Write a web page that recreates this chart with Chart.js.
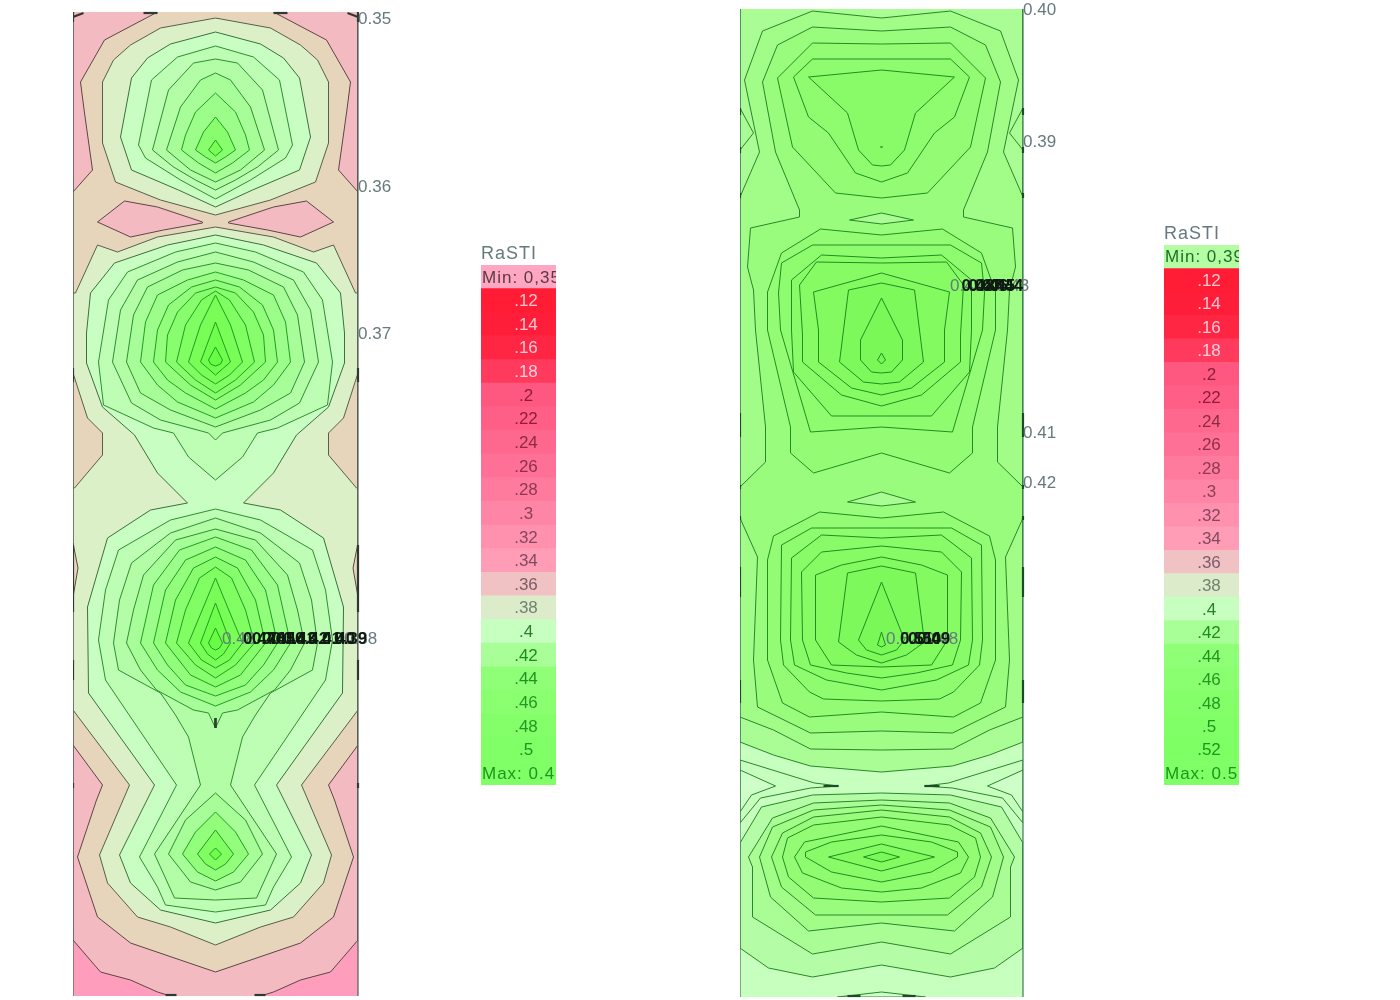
<!DOCTYPE html>
<html>
<head>
<meta charset="utf-8">
<title>RaSTI</title>
<script src="https://cdn.jsdelivr.net/npm/chart.js@4"></script>
<style>
    body { margin: 0; background: #fff; }
    canvas { position: absolute; top: 0; }
</style>
</head>
<body>
<canvas id="leftPlan" width="330" height="1000" style="left:73px"></canvas>
<canvas id="rightPlan" width="328" height="1000" style="left:740px"></canvas>
<canvas id="leftScale" width="75" height="785" style="left:481px"></canvas>
<canvas id="rightScale" width="75" height="785" style="left:1164px"></canvas>
<script>
// Contours are half outlines: [offset from the room axis, distance along the room]

// Left room
const leftPink = [[0,0],[142.5,0],[142.5,940],[115,972],[85,980],[58,992],[45,996],[45,1000],[0,1000]];
const leftTan = [[0,0],[58,0],[58,12],[111,40],[135,82],[131,113],[123,170],[142.5,192],[142.5,745],[113,785],[119,800],[138,857],[128,887],[118,917],[85,943],[0,972]];
const leftDiamond = [[13,222],[58,207],[91,201],[118,222],[85,237],[52,230],[13,223]];
const leftSliver = [[142.5,543],[137.5,568],[142.5,597]];
const leftT0 = [[0,18],[55,28],[85,45],[102,60],[113,82],[113,143],[100,182],[55,200],[0,215]];
const leftT1 = [[0,32],[45,44],[68,58],[84,78],[95,137],[84,170],[37,190],[0,207]];
const leftT2 = [[0,46],[38,57],[64,80],[77,145],[70,158],[35,180],[0,199]];
const leftT3 = [[0,59],[22,63],[47,90],[63,150],[42,167],[20,180],[0,190]];
const leftT4 = [[0,73],[15,80],[35,107],[49,150],[25,170],[0,182]];
const leftT5 = [[0,93],[20,112],[30,135],[34,150],[17,163],[0,173]];
const leftT6 = [[0,117],[12,132],[20,150],[10,157],[0,163]];
const leftT7 = [[0,140],[7,150],[0,156]];
const leftPale = [[0,227],[58,237],[98,252],[118,245],[140,293],[142.5,293],[142.5,373],[128,418],[113,433],[113,455],[141,488],[142.5,488],[142.5,710],[86,785],[116,855],[108,883],[78,917],[45,927],[0,945]];
const leftL0 = [[0,235],[48,245],[101,263],[125,293],[129,333],[129,363],[113,407],[81,435],[58,473],[28,503],[65,510],[108,538],[128,607],[127,693],[61,785],[96,855],[85,883],[55,910],[0,923]];
const leftM1 = [[0,243],[40,252],[88,272],[107,300],[117,362],[112,405],[62,428],[42,433],[27,457],[0,480]];
const leftM2 = [[0,252],[38,262],[78,280],[95,310],[103,362],[84,403],[55,420],[7,433],[0,440]];
const leftM3 = [[0,263],[33,270],[68,287],[82,315],[89,362],[75,393],[45,410],[0,427]];
const leftM4 = [[0,272],[28,280],[58,295],[70,322],[75,362],[58,385],[38,402],[0,418]];
const leftM5 = [[0,280],[24,287],[47,305],[58,330],[62,362],[48,380],[30,393],[0,409]];
const leftM6 = [[0,287],[20,293],[38,312],[48,335],[50,362],[25,385],[0,400]];
const leftM7 = [[0,291],[14,300],[30,325],[39,362],[20,380],[0,393]];
const leftM8 = [[0,295],[15,325],[27,362],[14,375],[0,384]];
const leftM9 = [[0,322],[15,362],[8,368],[0,375]];
const leftM10 = [[0,347],[7,360],[5,364],[0,366]];
const leftA = [[0,509],[45,520],[97,550],[110,590],[117,640],[110,680],[39,785],[76,857],[58,887],[50,905],[0,912]];
const leftB = [[0,518],[45,533],[84,563],[96,600],[102,643],[97,670],[55,693],[40,715],[27,737],[15,785],[61,854],[41,898],[0,900]];
const leftC = [[0,529],[40,540],[72,575],[82,610],[89,643],[75,670],[59,690],[22,710],[7,713],[0,728]];
const leftD = [[0,537],[36,550],[62,585],[75,643],[58,670],[35,692],[0,706]];
const leftE = [[0,547],[30,560],[50,590],[62,643],[48,665],[30,685],[0,696]];
const leftF = [[0,557],[22,568],[40,600],[50,643],[25,675],[0,687]];
const leftG = [[0,567],[16,578],[30,610],[39,643],[20,665],[0,678]];
const leftH = [[0,578],[27,643],[14,660],[0,668]];
const leftI = [[0,603],[15,643],[8,654],[0,660]];
const leftJ = [[0,628],[7,643],[4,648],[0,650]];
const leftB1 = [[0,793],[30,820],[47,854],[25,882],[0,890]];
const leftB2 = [[0,812],[20,832],[33,854],[18,872],[0,881]];
const leftB3 = [[0,830],[18,854],[10,864],[0,870]];
const leftB4 = [[0,848],[6,854],[0,860]];
// Heavy strokes where a contour runs along an outline: [x0, y0, x1, y1]
const leftMarks = [[142.5,368,142.5,382],[142.5,545,142.5,612],[142.5,660,142.5,680],[142.5,783,142.5,788],[142.5,12,142.5,22],[132,13,142.5,17],[72,13,58,13],[50,995,39,995],[0,718,0,728]];

// Right room
const rightWedgeOuter = [[141.5,760],[67,783],[43,786],[71,788],[121,798],[141.5,823]];
const rightWedgeInner = [[141.5,770],[106,786],[130,795],[141.5,812]];
const rightNotch = [[141.5,108],[128,133],[141.5,150]];
const rightFoot = [[0,992],[44,997],[0,997]];
const rightU1 = [[0,0],[141.5,0],[141.5,742],[108,755],[71,766],[0,772]];
const rightD1 = [[0,793],[69,795],[120,807],[141.5,843],[141.5,948],[113,968],[69,977],[0,965]];
const rightU2 = [[0,18],[69,11],[119,31],[137,80],[122,152],[141.5,197],[141.5,717],[108,730],[71,749],[0,750]];
const rightU3 = [[0,31],[69,27],[104,45],[119,82],[106,152],[82,210],[82,217],[131,228],[134,267],[128,290],[126,330],[116,427],[116,462],[141.5,487],[141.5,518],[124,557],[128,660],[124,707],[71,733],[0,731]];
const rightLensUpper = [[0,213],[32,220],[0,224]];
const rightLensLower = [[0,492],[34,502],[0,506]];
const rightTop1 = [[0,44],[69,43],[104,78],[89,147],[46,193],[0,198]];
const rightTop2 = [[0,59],[69,59],[88,77],[73,117],[53,133],[26,173],[0,182]];
const rightTop3 = [[0,70],[73,77],[34,113],[23,150],[9,165],[0,166]];
const rightTopDot = [[0,146],[1,147],[0,148]];
const rightM0 = [[0,235],[61,229],[100,253],[114,292],[114,330],[91,427],[91,453],[68,473],[0,453]];
const rightM1 = [[0,245],[69,245],[100,263],[103,293],[101,330],[71,432],[0,427]];
const rightM2 = [[0,258],[60,255],[90,280],[90,330],[88,372],[50,416],[0,416]];
const rightM3 = [[0,263],[65,262],[82,285],[79,335],[79,362],[40,395],[0,406]];
const rightM4 = [[0,273],[68,292],[63,330],[63,362],[30,388],[0,395]];
const rightM5 = [[0,283],[33,290],[38,330],[42,362],[18,382],[0,384]];
const rightM6 = [[0,298],[21,340],[21,360],[10,372],[0,373]];
const rightM7 = [[0,353],[4,360],[0,364]];
const rightL0 = [[0,518],[62,512],[108,536],[114,560],[114,660],[99,703],[72,717],[0,712]];
const rightL1 = [[0,528],[70,528],[100,545],[101,640],[98,665],[72,692],[58,699],[0,701]];
const rightL2 = [[0,538],[60,535],[90,558],[91,640],[87,665],[55,680],[0,690]];
const rightL3 = [[0,546],[60,552],[80,572],[79,640],[71,665],[35,673],[0,678]];
const rightL4 = [[0,557],[40,565],[66,575],[66,640],[50,665],[0,667]];
const rightL5 = [[0,566],[34,573],[43,642],[25,655],[0,663]];
const rightL6 = [[0,582],[23,640],[15,650],[0,655]];
const rightL7 = [[0,632],[4,645],[0,647]];
const rightD2 = [[0,800],[68,803],[109,818],[133,857],[129,867],[129,917],[69,954],[0,942]];
const rightD3 = [[0,805],[68,810],[109,827],[122,857],[111,897],[73,931],[0,923]];
const rightD4 = [[0,810],[68,817],[99,833],[110,857],[100,887],[66,915],[0,915]];
const rightD5 = [[0,817],[68,825],[94,838],[99,857],[93,877],[68,898],[0,902]];
const rightD6 = [[0,826],[77,842],[87,857],[79,873],[40,888],[0,892]];
const rightD7 = [[0,835],[50,842],[76,852],[76,857],[50,872],[0,882]];
const rightD8 = [[0,844],[53,857],[0,871]];
const rightD9 = [[0,852],[18,857],[0,862]];
const rightMarks = [[141.5,108,141.5,115],[141.5,147,141.5,153],[141.5,193,141.5,198],[141.5,413,141.5,437],[141.5,485,141.5,489],[141.5,516,141.5,520],[141.5,567,141.5,597],[141.5,680,141.5,703],[58,786,43,786],[34,996,21,996]];

// Contour value labels
const leftEdgeTexts = ['0.35', '0.36', '0.37'];
const leftEdgeAt = [18, 186, 333];
const leftPileTexts = ['0.48', '0.47', '0.46', '0.45', '0.44', '0.43', '0.42', '0.41', '0.40', '0.39', '0.38'];
const leftPileAt = [6.5, 27.5, 36.5, 46.5, 56.5, 67.5, 79.5, 92.5, 106.5, 118.5, 128.5];
const rightEdgeTexts = ['0.40', '0.39', '0.41', '0.42'];
const rightEdgeAt = [9, 141, 432, 482];
const rightUpperTexts = ['0.49', '0.48', '0.47', '0.46', '0.45', '0.44', '0.43'];
const rightUpperAt = [68.5, 80, 87, 93.5, 100.5, 108.5, 114.5];
const rightLowerTexts = ['0.52', '0.51', '0.50', '0.49', '0.48'];
const rightLowerAt = [4.5, 18.5, 26.5, 35.5, 43.5];

// Colour scale rows
const leftCategories = ['Min: 0,35', '.12', '.14', '.16', '.18', '.2', '.22', '.24', '.26', '.28', '.3', '.32', '.34', '.36', '.38', '.4', '.42', '.44', '.46', '.48', '.5', 'Max: 0.4'];
const rightCategories = ['Min: 0,39', '.12', '.14', '.16', '.18', '.2', '.22', '.24', '.26', '.28', '.3', '.32', '.34', '.36', '.38', '.4', '.42', '.44', '.46', '.48', '.5', '.52', 'Max: 0.5'];
const rowFills = {
    '.12': '#ff1c34', '.14': '#ff1e3a', '.16': '#ff2644', '.18': '#ff3a5c', '.2': '#ff5880', '.22': '#ff5f86',
    '.24': '#ff688e', '.26': '#ff7096', '.28': '#ff7b9e', '.3': '#ff85a6', '.32': '#ff90ae', '.34': '#ff9cb6',
    '.36': '#f0c2c4', '.38': '#dcecca', '.4': '#c6ffc0', '.42': '#a8ff98', '.44': '#90ff78', '.46': '#8aff70',
    '.48': '#84ff6a', '.5': '#80ff66', '.52': '#7eff64'
};
const rowTexts = {
    '.12': '#ffc4d0', '.14': '#ffc4d0', '.16': '#ffc8d4', '.18': '#ffd0dc', '.2': '#8c1e3c', '.22': '#8c1e3c',
    '.24': '#8c2a44', '.26': '#8c3048', '.28': '#8c3a50', '.3': '#8c4058', '.32': '#844860', '.34': '#804a60',
    '.36': '#7a5c68', '.38': '#6e8470', '.4': '#2c7c2c', '.42': '#1c8c1c', '.44': '#1c961c', '.46': '#229a22',
    '.48': '#229a22', '.5': '#1c961c', '.52': '#1c961c'
};

const leftFills = ['#ff9dbd', '#f4bac2', '#e6d5bb', '#dcf0c8', '#c8fec2', '#bdfdb4', '#b2fda6', '#a7fd98', '#9cfd8a', '#92fe7c', '#88fe6e', '#80fe62', '#78fe56', '#70fe4c', '#68fd44'];
const rightFills = ['#ceffc8', '#c6ffbe', '#b4fda6', '#aafd94', '#a2fd88', '#9afc7c', '#94fc74', '#8efc6e', '#8afb68', '#86fb64', '#82fa60', '#7ef95c', '#7af858', '#76f754'];

function lineColor(level, pinkSide) {
    if (pinkSide && level <= 2) return '#5c4646';
    if (pinkSide && level === 3) return '#55604a';
    if (pinkSide && level === 4) return '#3c703c';
    if (pinkSide) return level < 8 ? '#2f8f2f' : '#1f9f1f';
    return level < 8 ? '#2a862a' : '#1f8f1f';
}

// Closes a half outline across the room axis
function mirrored(half) {
    const right = half.map(([x, y]) => ({ x, y }));
    const left = half.filter(p => p[0] !== 0).reverse().map(([x, y]) => ({ x: -x, y }));
    const points = right.concat(left);
    points.push(points[0]);
    return points;
}

function closed(outline, side) {
    const points = outline.map(([x, y]) => ({ x: x * side, y }));
    points.push(points[0]);
    return points;
}

function band(points, fill, stroke) {
    return {
        data: points,
        showLine: true,
        fill: 'shape',
        backgroundColor: fill,
        borderColor: stroke,
        borderWidth: 1,
        pointRadius: 0,
        tension: 0
    };
}

function stroke(points, color, width) {
    return {
        data: points,
        showLine: true,
        fill: false,
        borderColor: color,
        borderWidth: width,
        pointRadius: 0,
        clip: 3
    };
}

function edgeLines(halfWidth, top, bottom, color) {
    return [-halfWidth, halfWidth].map(x => stroke([{ x, y: top }, { x, y: bottom }], color, 1.2));
}

// Every heavy stroke appears on both sides of the axis
function markLines(marks, color) {
    const lines = [];
    marks.forEach(([x0, y0, x1, y1]) => {
        [1, -1].forEach(side => {
            lines.push(stroke([{ x: x0 * side, y: y0 }, { x: x1 * side, y: y1 }], color, 2.2));
        });
    });
    return lines;
}

// Labels sit beside the contour they name and may run past the room outline
function labelPlugin(groups) {
    return {
        id: 'contourLabels',
        afterDatasetsDraw(chart) {
            const { ctx, scales } = chart;
            ctx.save();
            ctx.textBaseline = 'middle';
            ctx.textAlign = 'left';
            groups.forEach(g => {
                const order = g.texts.map((t, i) => i);
                if (!g.edge) order.sort((a, b) => (b === 0 || b === g.texts.length - 1) - (a === 0 || a === g.texts.length - 1));
                order.forEach(i => {
                    const dx = Array.isArray(g.x) ? g.x[i] : g.x;
                    const dy = Array.isArray(g.y) ? g.y[i] : g.y;
                    const outer = g.edge || i === 0 || i === g.texts.length - 1;
                    ctx.font = (outer ? '' : 'bold ') + '17px "Liberation Sans"';
                    ctx.fillStyle = outer ? '#66797d' : '#0e1a12';
                    ctx.fillText(g.texts[i], scales.x.getPixelForValue(dx), scales.y.getPixelForValue(dy) + 1);
                });
            });
            ctx.restore();
        }
    };
}

function drawPlan(id, datasets, halfWidth, top, bottom, labels) {
    const count = datasets.length;
    datasets.forEach((d, i) => { d.order = count - i; });
    new Chart(document.getElementById(id), {
        type: 'scatter',
        data: { datasets },
        options: {
            responsive: false,
            animation: false,
            events: [],
            layout: { padding: { top, bottom: 1000 - bottom, left: 0, right: 45 } },
            plugins: { legend: { display: false }, tooltip: { enabled: false } },
            scales: {
                x: { type: 'linear', display: false, min: -halfWidth, max: halfWidth },
                y: { type: 'linear', display: false, min: top, max: bottom, reverse: true }
            }
        },
        plugins: [labelPlugin(labels)]
    });
}

function drawScale(id, categories, top, minFill, maxFill, minText, maxText) {
    new Chart(document.getElementById(id), {
        type: 'bar',
        data: {
            labels: categories,
            datasets: [{
                data: categories.map(() => 1),
                backgroundColor: categories.map((c, i) => i === 0 ? minFill : i === categories.length - 1 ? maxFill : rowFills[c]),
                barPercentage: 1,
                categoryPercentage: 1,
                borderWidth: 0
            }]
        },
        options: {
            indexAxis: 'y',
            responsive: false,
            animation: false,
            events: [],
            layout: { padding: { top, bottom: 0, left: 0, right: 0 } },
            plugins: { legend: { display: false }, tooltip: { enabled: false } },
            scales: {
                x: { display: false, min: 0, max: 1 },
                y: { display: false }
            }
        },
        plugins: [{
            id: 'scaleText',
            afterDatasetsDraw(chart) {
                const { ctx, chartArea, scales } = chart;
                ctx.save();
                ctx.textBaseline = 'middle';
                ctx.font = '18px "Liberation Sans"';
                ctx.letterSpacing = '1px';
                ctx.fillStyle = '#66797d';
                ctx.fillText('RaSTI', chartArea.left, chartArea.top - 11);
                ctx.font = '17px "Liberation Sans"';
                ctx.beginPath();
                ctx.rect(chartArea.left, chartArea.top, chartArea.width, chartArea.height);
                ctx.clip();
                categories.forEach((c, i) => {
                    const y = scales.y.getPixelForValue(i) + 1;
                    if (i === 0 || i === categories.length - 1) {
                        ctx.letterSpacing = '1px';
                        ctx.textAlign = 'left';
                        ctx.fillStyle = i === 0 ? minText : maxText;
                        ctx.fillText(c, chartArea.left + 1, y);
                    } else {
                        ctx.letterSpacing = '0px';
                        ctx.textAlign = 'center';
                        ctx.fillStyle = rowTexts[c];
                        ctx.fillText(c, chartArea.left + 45, y);
                    }
                });
                ctx.restore();
            }
        }]
    });
}

const leftBand = (half, level) => band(mirrored(half), leftFills[level], lineColor(level, true));
const rightBand = (half, level) => band(mirrored(half), rightFills[level], lineColor(level + 2, false));

drawPlan('leftPlan', [
    band(closed([[-142.5, 0], [142.5, 0], [142.5, 1000], [-142.5, 1000]], 1), leftFills[0], leftFills[0]),
    leftBand(leftPink, 1),
    leftBand(leftTan, 2),
    band(closed(leftDiamond, 1), leftFills[1], lineColor(1, true)),
    band(closed(leftDiamond, -1), leftFills[1], lineColor(1, true)),
    leftBand(leftT0, 3), leftBand(leftT1, 4), leftBand(leftT2, 5), leftBand(leftT3, 6),
    leftBand(leftT4, 7), leftBand(leftT5, 8), leftBand(leftT6, 10), leftBand(leftT7, 12),
    leftBand(leftPale, 3),
    band(closed(leftSliver, 1), leftFills[2], lineColor(2, true)),
    band(closed(leftSliver, -1), leftFills[2], lineColor(2, true)),
    leftBand(leftL0, 4),
    leftBand(leftM1, 5), leftBand(leftM2, 6), leftBand(leftM3, 7), leftBand(leftM4, 8), leftBand(leftM5, 9),
    leftBand(leftM6, 10), leftBand(leftM7, 11), leftBand(leftM8, 12), leftBand(leftM9, 13), leftBand(leftM10, 14),
    leftBand(leftA, 5), leftBand(leftB, 6),
    leftBand(leftC, 7), leftBand(leftD, 8), leftBand(leftE, 9), leftBand(leftF, 10),
    leftBand(leftG, 11), leftBand(leftH, 12), leftBand(leftI, 13), leftBand(leftJ, 14),
    leftBand(leftB1, 7), leftBand(leftB2, 9), leftBand(leftB3, 11), leftBand(leftB4, 13),
    ...edgeLines(142.5, 12, 996, '#50635a'),
    ...markLines(leftMarks, '#2e3a30')
], 142.5, 12, 996, [
    { texts: leftEdgeTexts, x: 142.5, y: leftEdgeAt, edge: true },
    { texts: leftPileTexts, x: leftPileAt, y: 638 }
]);

drawPlan('rightPlan', [
    band(closed([[-141.5, 0], [141.5, 0], [141.5, 1000], [-141.5, 1000]], 1), rightFills[1], rightFills[1]),
    band(closed(rightWedgeOuter, 1), rightFills[1], lineColor(2, false)),
    band(closed(rightWedgeOuter, -1), rightFills[1], lineColor(2, false)),
    band(closed(rightWedgeInner, 1), rightFills[0], lineColor(2, false)),
    band(closed(rightWedgeInner, -1), rightFills[0], lineColor(2, false)),
    rightBand(rightFoot, 0),
    rightBand(rightU1, 3), rightBand(rightD1, 2), rightBand(rightU2, 4), rightBand(rightU3, 5),
    band(closed(rightNotch, 1), rightFills[3], lineColor(2, false)),
    band(closed(rightNotch, -1), rightFills[3], lineColor(2, false)),
    rightBand(rightLensUpper, 3), rightBand(rightLensLower, 3),
    rightBand(rightTop1, 6), rightBand(rightTop2, 7), rightBand(rightTop3, 8), rightBand(rightTopDot, 8),
    rightBand(rightM0, 6), rightBand(rightM1, 7), rightBand(rightM2, 8), rightBand(rightM3, 9),
    rightBand(rightM4, 10), rightBand(rightM5, 11), rightBand(rightM6, 12), rightBand(rightM7, 13),
    rightBand(rightL0, 6), rightBand(rightL1, 7), rightBand(rightL2, 8), rightBand(rightL3, 9),
    rightBand(rightL4, 10), rightBand(rightL5, 11), rightBand(rightL6, 12), rightBand(rightL7, 13),
    rightBand(rightD2, 3), rightBand(rightD3, 4), rightBand(rightD4, 5), rightBand(rightD5, 6),
    rightBand(rightD6, 7), rightBand(rightD7, 8), rightBand(rightD8, 10), rightBand(rightD9, 12),
    ...edgeLines(141.5, 9, 997, '#3f7a55'),
    ...markLines(rightMarks, '#1f4a2a')
], 141.5, 9, 997, [
    { texts: rightEdgeTexts, x: 141.5, y: rightEdgeAt, edge: true },
    { texts: rightUpperTexts, x: rightUpperAt, y: 285 },
    { texts: rightLowerTexts, x: rightLowerAt, y: 638 }
]);

drawScale('leftScale', leftCategories, 265, '#ffa6c2', '#80ff66', '#5a3a48', '#1c961c');
drawScale('rightScale', rightCategories, 245, '#b4fda2', '#80ff66', '#1f6f2a', '#1c961c');
</script>
</body>
</html>
